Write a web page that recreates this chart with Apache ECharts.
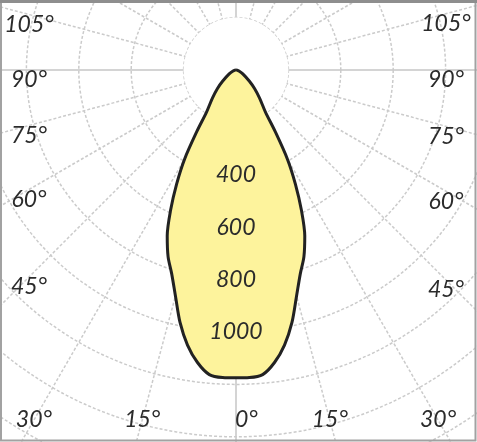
<!DOCTYPE html>
<html lang="en" style="height: 100%;width: 100%">
<head>
    <meta charset="utf-8">
</head>
<body style="height: 100%;width: 100%; margin: 0">
<div id="container" style="height: 442px;width: 477px;"></div>

<script type="text/javascript" src="https://cdn.jsdelivr.net/npm/echarts@6/dist/echarts.min.js"></script>
<script type="text/javascript">
    // light distribution, one half-profile (angle from nadir, degrees -> cd)
    var angles    = [0, 2.5, 5, 7.5, 10, 12.5, 15, 17.5, 20, 22.5, 25, 27.5, 30, 32.5, 35, 40, 45, 50, 60, 70, 80, 90];
    var intensity = [1175, 1175, 1167, 1126, 1066, 987, 893, 816, 758, 686, 591, 491, 392, 278, 196, 140, 100, 67, 30, 12, 4, 0];

    var ringLabels  = [400, 600, 800, 1000];
    var sideLabels  = [105, 90, 75, 60, 45, 30, 15];
    var bottomLabel = 0;

    var CX = 236, CY = 70;      // polar origin (lamp)
    var STEP = 52.4;            // pixels per 200 cd ring
    var R_MAX = 2000, R_INT = 200;

    var dom = document.getElementById('container');
    var myChart = echarts.init(dom, null, {renderer: 'canvas'});

    // left half goes 90 -> 0, right half 0 -> 90 (angle axis runs clockwise from the bottom)
    var curve = [];
    for (var i = angles.length - 1; i >= 0; i--) {
        curve.push([intensity[i], angles[i]]);
    }
    for (var j = 1; j < angles.length; j++) {
        curve.push([intensity[j], 360 - angles[j]]);
    }

    var labelFont = {
        fontSize: 23,
        fontStyle: 'italic',
        fontFamily: 'Lato',
        color: '#2b2b2b'
    };

    // angle labels sit where each ray meets a box just inside the frame
    var LEFT = 29, RIGHT = 446, BOTTOM = 420;
    function edgeLabel(deg, side) {
        var a = deg * Math.PI / 180;
        var dx = side * Math.sin(a), dy = Math.cos(a);
        var tx = Math.abs(dx) > 1e-6 ? (side < 0 ? CX - LEFT : RIGHT - CX) / Math.abs(dx) : Infinity;
        var ty = dy > 1e-6 ? (BOTTOM - CY) / dy : Infinity;
        var onSide = tx < ty;
        var t = Math.min(tx, ty);
        return {
            type: 'text',
            x: CX + dx * t,
            y: CY + dy * t + (onSide ? 10 : 0),
            z: 10,
            style: {
                text: deg + '°',
                fontSize: labelFont.fontSize,
                fontStyle: labelFont.fontStyle,
                fontFamily: labelFont.fontFamily,
                fill: labelFont.color,
                align: 'center',
                verticalAlign: 'middle'
            }
        };
    }

    var graphics = [];
    sideLabels.forEach(function (d) {
        graphics.push(edgeLabel(d, -1));
        graphics.push(edgeLabel(d, 1));
    });
    graphics.push({
        type: 'text',
        x: CX - 1,
        y: BOTTOM,
        z: 10,
        style: {
            text: bottomLabel + '°',
            fontSize: labelFont.fontSize,
            fontStyle: labelFont.fontStyle,
            fontFamily: labelFont.fontFamily,
            fill: labelFont.color,
            align: 'left',
            verticalAlign: 'middle'
        }
    });
    // frame
    graphics.push({
        type: 'rect',
        z: 20,
        shape: {x: 1, y: 1.5, width: 474.5, height: 439},
        style: {fill: null, stroke: '#a2a2a2', lineWidth: 2}
    });
    graphics.push({
        type: 'line',
        z: 21,
        shape: {x1: 0, y1: 1.5, x2: 477, y2: 1.5},
        style: {stroke: '#8e8e8e', lineWidth: 3}
    });

    var hidden = {show: false};
    var gridDash = {color: '#cbcbcb', width: 1.5, type: [3, 2]};
    var gridSolid = {color: '#d4d4d4', width: 2, type: 'solid'};
    var outer = STEP * R_MAX / R_INT;

    // first ring (0-200 cd) is left blank, it covers the rays near the lamp
    var ringFill = ['#ffffff'];
    for (var k = 1; k < R_MAX / R_INT; k++) ringFill.push('rgba(255,255,255,0)');

    var option = {
        backgroundColor: '#ffffff',
        animation: false,
        polar: [
            {center: [CX, CY], radius: outer},
            {center: [CX, CY], radius: outer}
        ],
        angleAxis: [
            {
                polarIndex: 0, type: 'value', min: 0, max: 360, interval: 15,
                startAngle: 270, clockwise: true, z: 0,
                axisLine: hidden, axisTick: hidden, axisLabel: hidden,
                splitLine: {show: true, lineStyle: gridDash}
            },
            {
                polarIndex: 1, type: 'value', min: 0, max: 360, interval: 90,
                startAngle: 270, clockwise: true, z: 0,
                axisLine: hidden, axisTick: hidden, axisLabel: hidden,
                splitLine: {show: true, lineStyle: gridSolid}
            }
        ],
        radiusAxis: [
            {
                polarIndex: 0, type: 'value', min: 0, max: R_MAX, interval: R_INT,
                z: 1,
                axisLine: hidden, axisTick: hidden, axisLabel: hidden,
                splitLine: {show: true, lineStyle: gridDash},
                splitArea: {show: true, areaStyle: {color: ringFill}}
            },
            {
                polarIndex: 1, type: 'value', min: 0, max: R_MAX, interval: R_INT,
                z: 10,
                axisLine: hidden, axisTick: hidden, splitLine: hidden,
                axisLabel: {
                    show: true,
                    margin: 0,
                    align: 'center',
                    verticalAlign: 'middle',
                    fontSize: labelFont.fontSize,
                    fontStyle: labelFont.fontStyle,
                    fontFamily: labelFont.fontFamily,
                    color: labelFont.color,
                    formatter: function (v) {
                        return ringLabels.indexOf(v) >= 0 ? String(v) : '';
                    }
                }
            }
        ],
        graphic: graphics,
        series: [
            {
                name: 'intensity',
                type: 'line',
                coordinateSystem: 'polar',
                polarIndex: 0,
                data: curve,
                smooth: 0.3,
                symbol: 'none',
                clip: false,
                z: 3,
                lineStyle: {color: '#222222', width: 3},
                areaStyle: {color: '#fdf39c', opacity: 1}
            }
        ]
    };
    myChart.setOption(option);
</script>
</body>
</html>
